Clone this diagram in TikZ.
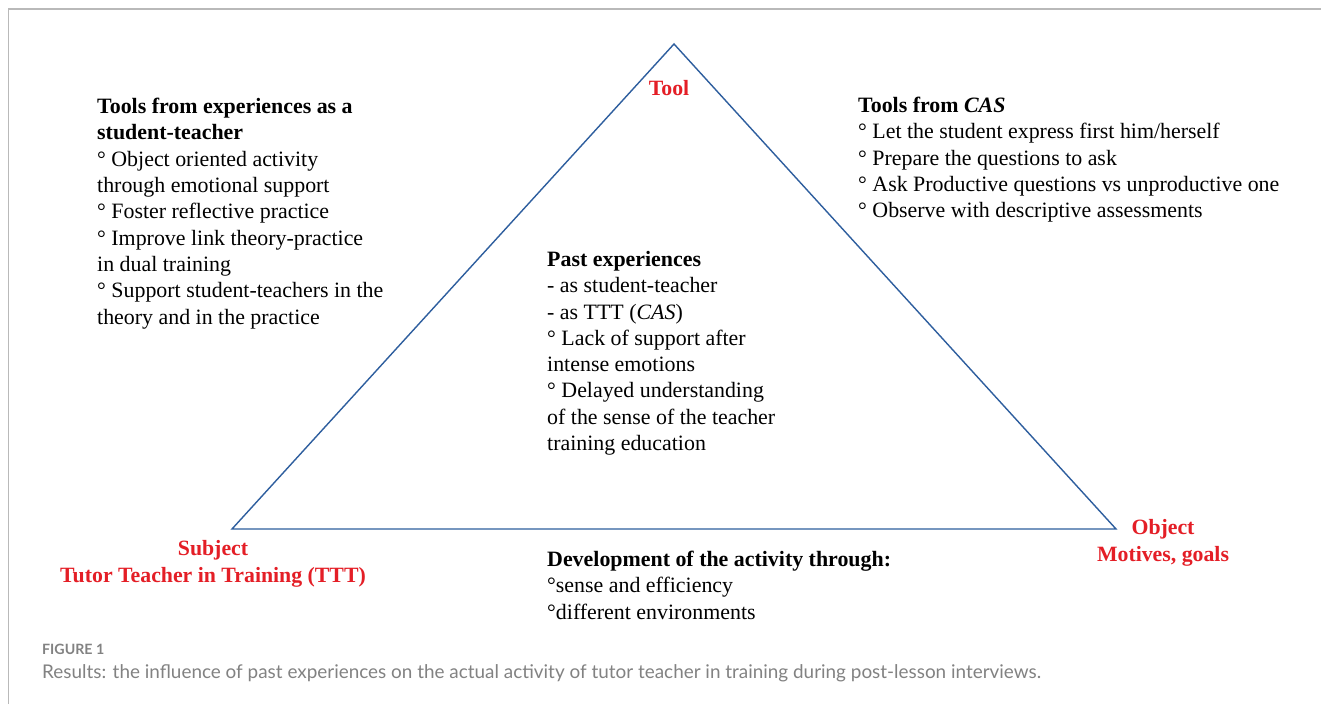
\documentclass[tikz,border=0pt]{standalone}
\usepackage{fontspec}
\setmainfont{Liberation Serif}
\newfontfamily\capfont{Lato}
\definecolor{triblue}{RGB}{46,94,158}
\definecolor{labred}{RGB}{228,30,38}
\definecolor{capgray}{RGB}{130,130,130}
\definecolor{framegray}{RGB}{185,185,185}
\begin{document}
\begin{tikzpicture}[x=1pt,y=-1pt,
  body/.style={inner sep=0pt,anchor=north west,align=left,font=\fontsize{21.9}{26.3}\selectfont},
  redlab/.style={inner sep=0pt,align=center,text=labred,font=\fontsize{21.8}{27}\selectfont\bfseries},
  edge/.style={draw=triblue,line width=1.4pt}]
\useasboundingbox (0,0) rectangle (1321,704);
\fill[white] (0,0) rectangle (1321,704);
\draw[framegray,line width=1.5pt] (8.5,704) -- (8.5,9) -- (1321,9);
% triangle
\coordinate (T) at (674,44);
\coordinate (S) at (232,529);
\coordinate (O) at (1116,529);
\draw[edge,line join=miter] (T) -- (O) -- (S) -- cycle;
% red labels
\node[redlab] (tool) at (669,88) {Tool};
\node[redlab] (subj) at (213,564) {Subject\\Tutor Teacher in Training (TTT)};
\node[redlab] (obj) at (1163,543) {Object\\Motives, goals};
% text blocks
\node[body] (left) at (97,98) {\textbf{Tools from experiences as a}\\\textbf{student-teacher}\\\textdegree{} Object oriented activity\\through emotional support\\\textdegree{} Foster reflective practice\\\textdegree{} Improve link theory-practice\\in dual training\\\textdegree{} Support student-teachers in the\\theory and in the practice};
\node[body] (right) at (858,97) {\textbf{Tools from \textit{CAS}}\\\textdegree{} Let the student express first him/herself\\\textdegree{} Prepare the questions to ask\\\textdegree{} Ask Productive questions vs unproductive one\\\textdegree{} Observe with descriptive assessments};
\node[body] (mid) at (547,251) {\textbf{Past experiences}\\- as student-teacher\\- as TTT (\textit{CAS})\\\textdegree{} Lack of support after\\intense emotions\\\textdegree{} Delayed understanding\\of the sense of the teacher\\training education};
\node[body] (dev) at (547,551) {\textbf{Development of the activity through:}\\\textdegree sense and efficiency\\\textdegree different environments};
% caption
\node[inner sep=0pt,anchor=west,text=capgray,font=\capfont\fontsize{14.2}{16}\selectfont\bfseries] (fig) at (42,649) {FIGURE 1};
\node[inner sep=0pt,anchor=west,text=capgray,font=\capfont\fontsize{18.9}{22}\selectfont] (cap) at (42,673) {Results: the influence of past experiences on the actual activity of tutor teacher in training during post-lesson interviews.};
\end{tikzpicture}
\end{document}
